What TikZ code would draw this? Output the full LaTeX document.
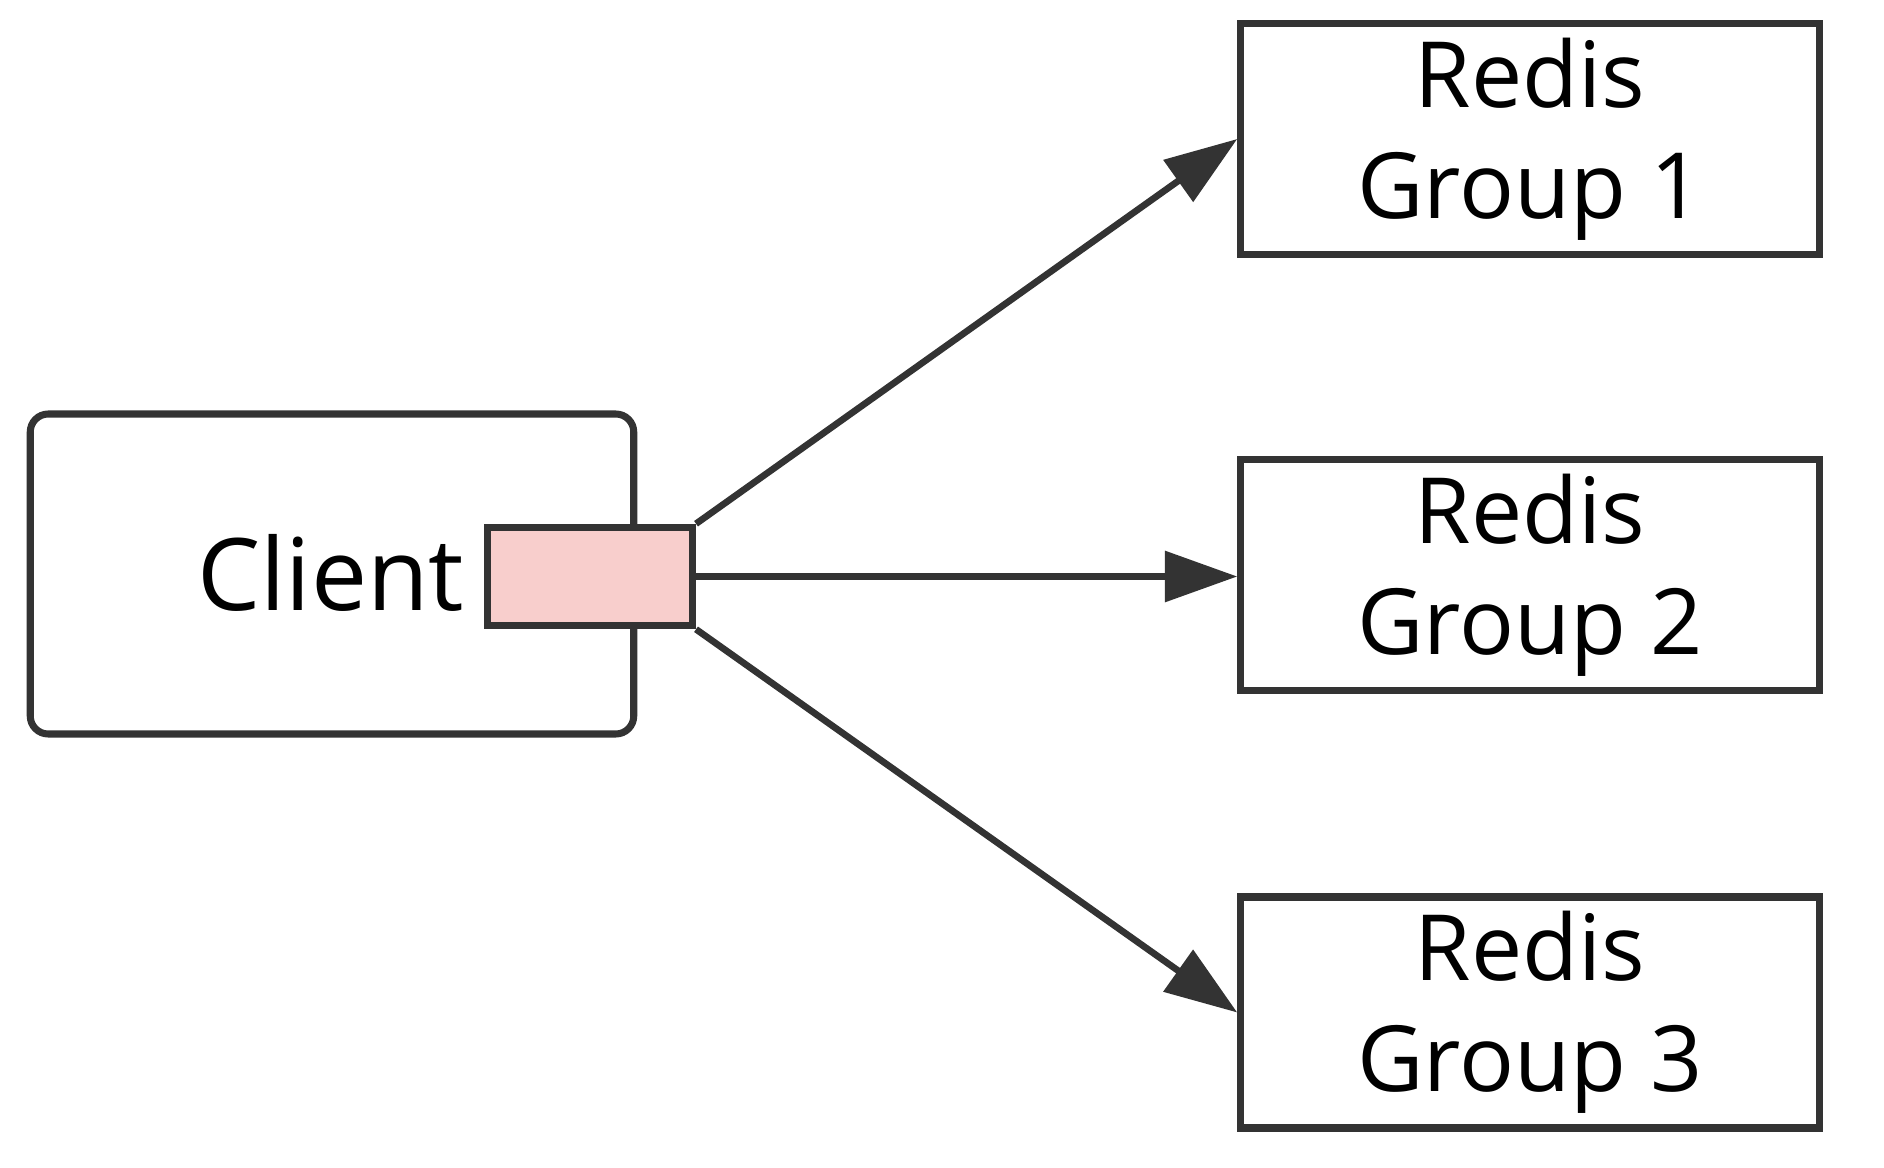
\documentclass[tikz,border=0pt]{standalone}
\usepackage{fontspec}
\setmainfont{Open Sans}
\usetikzlibrary{arrows.meta, positioning}
\definecolor{linegray}{HTML}{333333}
\definecolor{portred}{HTML}{F8CECC}
\tikzset{>={Triangle[length=1.45cm, width=1.0cm]}}
\tikzset{
  client/.style = {draw = linegray, line width = 4pt, rounded corners = 0.36cm,
                   minimum width = 12.07cm, minimum height = 6.4cm},
  port/.style   = {draw = linegray, fill = portred, line width = 4pt,
                   minimum width = 4.1cm, minimum height = 1.97cm},
  group/.style  = {draw = linegray, line width = 4pt, align = center,
                   minimum width = 11.57cm, minimum height = 4.62cm,
                   font = \fontsize{52}{63}\selectfont},
  link/.style   = {->, draw = linegray, line width = 3.8pt}
}

\begin{document}
\begin{tikzpicture}
\useasboundingbox (0, 0) rectangle (37.68, -23.36);
\node[client] (client) at (6.64, -11.48) {};
\node[anchor = base east, font = \fontsize{57}{64}\selectfont] at (9.41, -12.2) {Client};
\node[port] (port) at (11.8, -11.53) {};

\node[group] (r1) at (30.6, -2.78) {Redis\\Group 1};
\node[group] (r2) at (30.6, -11.5) {Redis\\Group 2};
\node[group] (r3) at (30.6, -20.25) {Redis\\Group 3};

\draw[link] (port.north east) -- (r1.west);
\draw[link] (port.east) -- (port.east -| r2.west);
\draw[link] (port.south east) -- (r3.west);
\end{tikzpicture}
\end{document}
